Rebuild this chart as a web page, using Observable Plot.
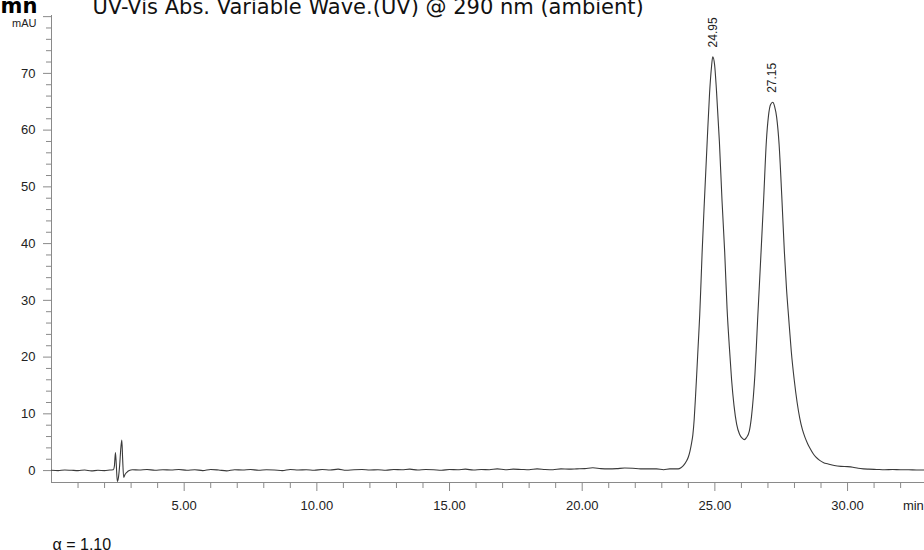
<!DOCTYPE html>
<html>
<head>
<meta charset="utf-8">
<script src="https://cdn.jsdelivr.net/npm/d3@7"></script>
<script src="https://cdn.jsdelivr.net/npm/@observablehq/plot@0.6"></script>
<style>
  html, body { margin: 0; padding: 0; background: #fff; overflow: hidden; }
</style>
</head>
<body>
<div id="chart"></div>
<script>
// Retention time (min) and absorbance (mAU)
const times = [
  0.0, 0.25, 0.5, 0.75, 1.0, 1.25, 1.5, 1.75, 2.0, 2.2, 2.33,
  2.37, 2.41, 2.44, 2.48, 2.52, 2.57, 2.61, 2.65, 2.68, 2.72, 2.77, 2.84, 2.93, 3.05,
  3.3, 3.6, 3.9, 4.2, 4.5, 4.8, 5.1, 5.4, 5.7, 6.0, 6.3, 6.6, 6.9, 7.2, 7.5, 7.8,
  8.1, 8.4, 8.7, 9.0, 9.3, 9.6, 9.9, 10.2, 10.5, 10.8, 11.1, 11.4, 11.7, 12.0,
  12.3, 12.6, 12.9, 13.2, 13.5, 13.8, 14.1, 14.4, 14.7, 15.0, 15.3, 15.6, 15.9,
  16.2, 16.5, 16.8, 17.1, 17.4, 17.7, 18.0, 18.3, 18.6, 18.9, 19.2, 19.5, 19.8,
  20.1, 20.4, 20.7, 21.0, 21.3, 21.6, 21.9, 22.2, 22.5, 22.8, 23.07, 23.3, 23.5,
  23.62, 23.72, 23.82, 23.92, 24.0, 24.06, 24.12, 24.17, 24.22, 24.27, 24.31,
  24.37, 24.43, 24.48, 24.52, 24.6, 24.71, 24.8, 24.87, 24.92, 24.99, 25.06,
  25.17, 25.27, 25.37, 25.46, 25.55, 25.63, 25.72, 25.82, 25.93, 26.03, 26.11,
  26.19, 26.3, 26.38, 26.45, 26.51, 26.56, 26.61, 26.67, 26.74, 26.84, 26.94,
  27.02, 27.1, 27.18, 27.25, 27.33, 27.42, 27.52, 27.62, 27.7, 27.78, 27.88,
  27.99, 28.1, 28.2, 28.3, 28.4, 28.5, 28.6, 28.7, 28.8, 28.95, 29.1, 29.25,
  29.5, 29.75, 30.0, 30.2, 30.4, 30.6, 30.8, 31.1, 31.4, 31.7, 32.0, 32.3, 32.6, 32.9
];
const mau = [
  0.05, 0.0, 0.1, 0.05, 0.0, 0.1, -0.05, 0.05, 0.0, 0.1, 0.15,
  0.8, 3.2, 1.2, -1.9, -1.3, 1.0, 3.8, 5.4, 2.2, -1.2, -0.7, -0.3, 0.0, 0.15,
  0.1, 0.2, 0.05, 0.15, 0.1, 0.2, 0.05, 0.15, 0.0, 0.2, 0.1, -0.05, 0.15, 0.1, 0.2, 0.05,
  0.15, 0.1, 0.0, 0.2, 0.1, 0.15, 0.05, 0.2, 0.1, 0.25, 0.05, 0.15, 0.2, 0.1,
  0.15, 0.05, 0.2, 0.15, 0.25, 0.1, 0.2, 0.15, 0.05, 0.2, 0.15, 0.25, 0.1,
  0.2, 0.15, 0.3, 0.15, 0.25, 0.2, 0.15, 0.3, 0.2, 0.15, 0.3, 0.25, 0.3,
  0.35, 0.5, 0.35, 0.3, 0.35, 0.45, 0.4, 0.3, 0.3, 0.3, 0.15, 0.3, 0.3,
  0.3, 0.5, 0.9, 1.6, 2.4, 3.4, 4.8, 6.3, 9.0, 13.0, 16.5,
  22.0, 27.5, 33.5, 38.5, 47.0, 58.0, 66.5, 71.0, 72.9, 71.5, 67.0,
  58.0, 47.5, 38.5, 28.5, 21.5, 16.0, 11.5, 8.2, 6.4, 5.7, 5.45,
  5.8, 7.0, 9.5, 13.0, 17.0, 21.5, 26.5, 32.0, 38.5, 48.0, 58.0,
  62.5, 64.5, 64.9, 64.2, 62.2, 57.5, 48.5, 38.5, 32.0, 27.0, 21.0,
  16.0, 12.0, 9.2, 7.2, 5.8, 4.7, 3.8, 3.0, 2.4, 1.8, 1.4, 1.2,
  0.9, 0.75, 0.7, 0.6, 0.4, 0.3, 0.25, 0.2, 0.15, 0.2, 0.15, 0.15, 0.1, 0.1
];

// Labelled peaks
const peakTimes = [24.95, 27.15];
const peakHeights = [72.9, 64.9];

// Axis ticks
const yMajorTicks = [0, 10, 20, 30, 40, 50, 60, 70, 80];
const yMinorTicks = [2,4,6,8,12,14,16,18,22,24,26,28,32,34,36,38,42,44,46,48,52,54,56,58,62,64,66,68,72,74,76,78];
const xMajorTicks = [5, 10, 15, 20, 25, 30];
const xMinorTicks = [1,2,3,4,6,7,8,9,11,12,13,14,16,17,18,19,21,22,23,24,26,27,28,29,31,32];

const titleText = "UV-Vis Abs. Variable Wave.(UV) @ 290 nm (ambient)";
const cutText = "mn";
const yUnit = "mAU";
const xUnit = "min";
const alphaText = "α = 1.10";

const data = times.map((t, i) => ({t, v: mau[i]}));
const peaks = peakTimes.map((t, i) => ({t, v: peakHeights[i]}));

const axisGray = "#8a8a8a";
const font = "'Liberation Sans', Arial, sans-serif";

const chart = Plot.plot({
  width: 924,
  height: 550,
  marginLeft: 51,
  marginRight: 0,
  marginTop: 15,
  marginBottom: 68,
  style: {fontFamily: font, background: "#fff", color: "#222", overflow: "visible"},
  x: {domain: [0, 32.9], label: null},
  y: {domain: [-2.1, 80.2], label: null},
  marks: [
    Plot.frame({anchor: "left", stroke: axisGray}),
    Plot.frame({anchor: "bottom", stroke: axisGray}),
    Plot.axisY(yMinorTicks, {tickSize: 5, stroke: axisGray, tickFormat: () => ""}),
    Plot.axisY(yMajorTicks, {tickSize: 8, tickPadding: 8, stroke: axisGray, fill: "#222", fontSize: 13,
      tickFormat: d => d === 80 ? "" : String(d)}),
    Plot.axisX(xMinorTicks, {tickSize: 6, stroke: axisGray, tickFormat: () => ""}),
    Plot.axisX(xMajorTicks, {tickSize: 9, tickPadding: 9, stroke: axisGray, fill: "#222", fontSize: 13,
      tickFormat: d => d.toFixed(2)}),
    Plot.line(data, {x: "t", y: "v", stroke: "#3a3a3a", strokeWidth: 1.1, curve: "monotone-x"}),
    Plot.text(peaks, {x: "t", y: "v", text: d => d.t.toFixed(2), rotate: -90, textAnchor: "start",
      dy: -9.5, fontSize: 12, fill: "#222"}),
    Plot.text([yUnit], {text: d => d, frameAnchor: "top-left", dx: -15, dy: 4, textAnchor: "end", fontSize: 11, fill: "#222"}),
    Plot.text([xUnit], {x: [32.48], text: d => d, frameAnchor: "bottom", dy: 18, lineAnchor: "top", fontSize: 13, fill: "#222"}),
    Plot.text([alphaText], {text: d => d, frameAnchor: "bottom-left", dx: 1, dy: 67, lineAnchor: "bottom",
      textAnchor: "start", fontSize: 16, fill: "#111"}),
    Plot.text([cutText], {text: d => d, frameAnchor: "top-left", dx: -51, dy: -3, lineAnchor: "bottom",
      textAnchor: "start", fontSize: 21, fontWeight: "bold", fontFamily: "DejaVu Sans", fill: "#000"}),
    Plot.text([titleText], {text: d => d, frameAnchor: "top-left", dx: 41, dy: -2, lineAnchor: "bottom",
      textAnchor: "start", fontSize: 21, fontFamily: "DejaVu Sans", fill: "#111"})
  ]
});

document.getElementById("chart").appendChild(chart);
</script>
</body>
</html>
